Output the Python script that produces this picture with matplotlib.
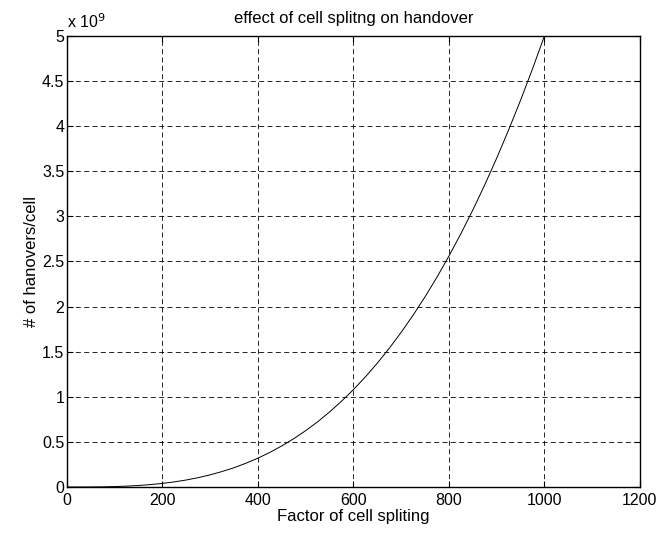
import matplotlib
matplotlib.use('Agg')
import matplotlib.pyplot as plt
from matplotlib.ticker import FuncFormatter

plt.rcParams['font.family'] = ['Liberation Sans', 'DejaVu Sans']

# Values
split_factor = [0, 25, 50, 75, 100, 125, 150, 175, 200, 225, 250, 275, 300,
                325, 350, 375, 400, 425, 450, 475, 500, 525, 550, 575, 600,
                625, 650, 675, 700, 725, 750, 775, 800, 825, 850, 875, 900,
                925, 950, 975, 1000]
handovers = [0.0, 0.00008e9, 0.0006e9, 0.0021e9, 0.005e9, 0.0098e9, 0.017e9,
             0.027e9, 0.04e9, 0.057e9, 0.078e9, 0.104e9, 0.135e9, 0.172e9,
             0.214e9, 0.264e9, 0.32e9, 0.384e9, 0.456e9, 0.536e9, 0.625e9,
             0.723e9, 0.832e9, 0.951e9, 1.08e9, 1.221e9, 1.373e9, 1.538e9,
             1.715e9, 1.905e9, 2.109e9, 2.327e9, 2.56e9, 2.808e9, 3.07e9,
             3.35e9, 3.645e9, 3.958e9, 4.287e9, 4.634e9, 5.0e9]

x_ticks = [0, 200, 400, 600, 800, 1000, 1200]
y_ticks = [0, 0.5e9, 1e9, 1.5e9, 2e9, 2.5e9, 3e9, 3.5e9, 4e9, 4.5e9, 5e9]

fig = plt.figure(figsize=(6.57, 5.36), dpi=100)
ax = fig.add_axes([0.102, 0.0914, 0.872, 0.8416])

ax.plot(split_factor, handovers, color='black', linewidth=0.7)

ax.set_xlim(0, 1200)
ax.set_ylim(0, 5e9)
ax.set_xticks(x_ticks)
ax.set_yticks(y_ticks)
ax.yaxis.set_major_formatter(FuncFormatter(lambda v, p: '%g' % (v / 1e9)))
ax.tick_params(direction='in', labelsize=11.5, length=4, top=True, right=True)
ax.tick_params(axis='y', pad=2)
ax.tick_params(axis='x', pad=4)
ax.grid(True, color='black', linestyle=(0, (6, 4)), linewidth=0.6)

for s in ax.spines.values():
    s.set_linewidth(1.0)

ax.text(0.0, 1.01, 'x 10$^{9}$', transform=ax.transAxes, fontsize=11.5,
        ha='left', va='bottom')
ax.set_title('effect of cell splitng on handover', fontsize=12, pad=9)
ax.set_xlabel('Factor of cell spliting', fontsize=12, labelpad=1)
ax.set_ylabel('# of hanovers/cell', fontsize=12, labelpad=2)

fig.savefig('out.png', dpi=100)
